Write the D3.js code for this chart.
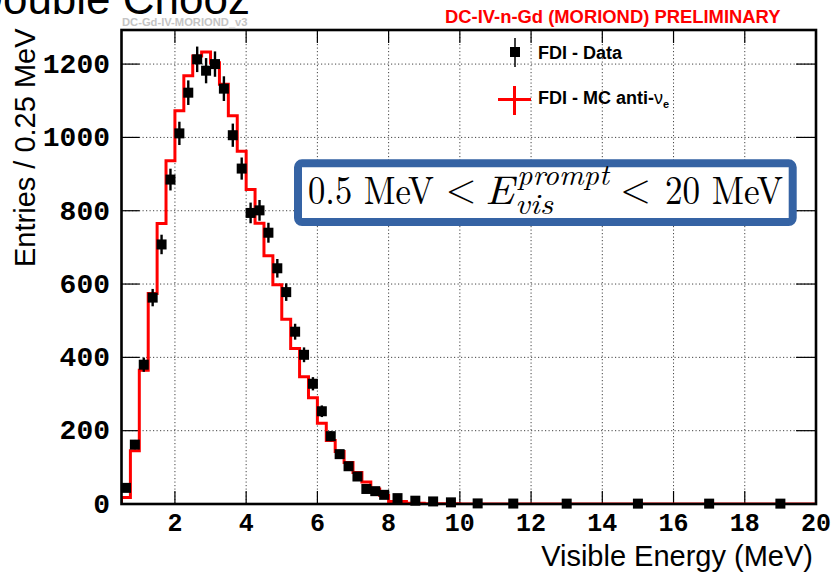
<!DOCTYPE html>
<html>
<head>
<meta charset="utf-8">
<script src="https://cdn.jsdelivr.net/npm/d3@7"></script>
<style>
  body { margin: 0; background: #fff; }
  svg { display: block; }
</style>
</head>
<body>
<svg id="chart" width="833" height="574"></svg>
<script>
// Bin edges of the prompt visible-energy spectrum (MeV)
const binEdges = [0.5, 0.75, 1.0, 1.25, 1.5, 1.75, 2.0, 2.25, 2.5, 2.75,
                  3.0, 3.25, 3.5, 3.75, 4.0, 4.25, 4.5, 4.75, 5.0, 5.25,
                  5.5, 5.75, 6.0, 6.25, 6.5, 6.75, 7.0, 7.25, 7.5, 7.75,
                  8.0, 8.5, 9.0, 9.5, 10, 11, 12, 14, 16, 18, 20];

// FDI data, entries per 0.25 MeV
const dataValues = [44, 162, 380, 563, 708, 885, 1011, 1122, 1213, 1182,
                    1200, 1133, 1006, 915, 794, 801, 740, 643, 578, 470,
                    407, 328, 253, 185, 136, 103, 75, 41, 35, 25,
                    16, 9, 7, 4.5, 1.6, 1.2, 1.0, 1.0, 1.0, 1.0];
const dataErrors = [6.6, 12.7, 19.5, 23.7, 26.6, 29.7, 31.8, 33.5, 34.8, 34.4,
                    34.6, 33.7, 31.7, 30.2, 28.2, 28.3, 27.2, 25.4, 24.0, 21.7,
                    20.2, 18.1, 15.9, 13.6, 11.7, 10.1, 8.7, 6.4, 5.9, 5.0,
                    2.8, 2.1, 1.9, 1.5, 0.6, 0.5, 0.4, 0.4, 0.4, 0.4];

// FDI Monte Carlo anti-neutrino prediction, entries per 0.25 MeV
const mcValues = [18, 145, 365, 574, 765, 936, 1073, 1168, 1222, 1233,
                  1204, 1145, 1059, 962, 858, 766, 677, 598, 504, 424,
                  347, 290, 220, 173, 143, 113, 86, 60, 41, 23,
                  7, 2, 1, 0.5, 0.3, 0.2, 0.1, 0.05, 0.02, 0.01];

const xTicks = [2, 4, 6, 8, 10, 12, 14, 16, 18, 20];
const yTicks = [0, 200, 400, 600, 800, 1000, 1200];

const svg = d3.select("#chart");

const plotLeft = 121.5, plotRight = 816, plotTop = 30, plotBottom = 504;
const x = d3.scaleLinear().domain([0.5, 20]).range([plotLeft, plotRight]);
const y = d3.scaleLinear().domain([0, 1293]).range([plotBottom, plotTop]);

// Title over the canvas (partly off the page)
svg.append("text")
  .attr("x", 250).attr("y", 14)
  .attr("text-anchor", "end")
  .attr("font-family", "Liberation Sans, Arial, sans-serif")
  .attr("font-size", 44)
  .attr("fill", "#000")
  .text("Double Chooz");

svg.append("text")
  .attr("x", 122).attr("y", 25.5)
  .attr("font-family", "Liberation Sans, Arial, sans-serif")
  .attr("font-weight", "bold")
  .attr("font-size", 11.2)
  .attr("fill", "#c4c4c4")
  .text("DC-Gd-IV-MORIOND_v3");

svg.append("text")
  .attr("x", 445).attr("y", 23.3)
  .attr("font-family", "Liberation Sans, Arial, sans-serif")
  .attr("font-weight", "bold")
  .attr("font-size", 18.4)
  .attr("fill", "#ff0000")
  .text("DC-IV-n-Gd (MORIOND) PRELIMINARY");

// Grid
const grid = svg.append("g")
  .attr("stroke", "#444").attr("stroke-width", 1)
  .attr("stroke-dasharray", "1.2,2.3");
grid.selectAll(".gx").data(xTicks.filter(t => t < 20)).join("line")
  .attr("x1", d => x(d)).attr("x2", d => x(d))
  .attr("y1", plotTop).attr("y2", plotBottom);
grid.selectAll(".gy").data(yTicks.filter(t => t > 0)).join("line")
  .attr("x1", plotLeft).attr("x2", plotRight)
  .attr("y1", d => y(d)).attr("y2", d => y(d));

// Axes ticks (inward, on all four sides)
const ticks = svg.append("g").attr("stroke", "#000").attr("stroke-width", 1.2);
xTicks.filter(t => t < 20).forEach(t => {
  ticks.append("line").attr("x1", x(t)).attr("x2", x(t)).attr("y1", plotBottom).attr("y2", plotBottom - 13);
  ticks.append("line").attr("x1", x(t)).attr("x2", x(t)).attr("y1", plotTop).attr("y2", plotTop + 13);
});
yTicks.filter(t => t > 0).forEach(t => {
  ticks.append("line").attr("x1", plotLeft).attr("x2", plotLeft + 18).attr("y1", y(t)).attr("y2", y(t));
  ticks.append("line").attr("x1", plotRight).attr("x2", plotRight - 20).attr("y1", y(t)).attr("y2", y(t));
});

// MC histogram (step line)
svg.append("clipPath").attr("id", "plotclip")
  .append("rect").attr("x", plotLeft).attr("y", plotTop)
  .attr("width", plotRight - plotLeft).attr("height", plotBottom - plotTop);

const mcPoints = [[binEdges[0], 0]]
  .concat(mcValues.map((v, i) => [binEdges[i], v]))
  .concat([[binEdges[binEdges.length - 1], mcValues[mcValues.length - 1]]]);
const stepLine = d3.line()
  .x(d => x(d[0])).y(d => y(d[1]))
  .curve(d3.curveStepAfter);
svg.append("path")
  .attr("clip-path", "url(#plotclip)")
  .attr("d", stepLine(mcPoints))
  .attr("fill", "none")
  .attr("stroke", "#ff0000")
  .attr("stroke-width", 3);

// Data points with error bars
const pts = dataValues.map((v, i) => ({
  e: (binEdges[i] + binEdges[i + 1]) / 2, v, err: dataErrors[i]
}));
const dg = svg.append("g");
dg.selectAll("line.err").data(pts).join("line")
  .attr("class", "err")
  .attr("x1", d => x(d.e)).attr("x2", d => x(d.e))
  .attr("y1", d => y(d.v + d.err)).attr("y2", d => y(Math.max(0, d.v - d.err)))
  .attr("stroke", "#000").attr("stroke-width", 2.4);
dg.selectAll("rect.pt").data(pts).join("rect")
  .attr("class", "pt")
  .attr("x", d => x(d.e) - 5).attr("y", d => y(d.v) - 5)
  .attr("width", 10).attr("height", 10)
  .attr("fill", "#000");

// Frame
svg.append("rect")
  .attr("x", plotLeft).attr("y", plotTop)
  .attr("width", plotRight - plotLeft).attr("height", plotBottom - plotTop)
  .attr("fill", "none").attr("stroke", "#000").attr("stroke-width", 2.6);

// Tick labels
svg.append("g").selectAll("text").data(yTicks).join("text")
  .attr("x", 110).attr("y", d => y(d) + 8.8)
  .attr("text-anchor", "end")
  .attr("font-family", "Liberation Mono, Courier New, monospace")
  .attr("font-weight", "bold")
  .attr("font-size", 28)
  .attr("fill", "#000")
  .text(d => d);

svg.append("g").selectAll("text").data(xTicks).join("text")
  .attr("x", d => x(d)).attr("y", 531)
  .attr("text-anchor", "middle")
  .attr("font-family", "Liberation Mono, Courier New, monospace")
  .attr("font-weight", "bold")
  .attr("font-size", 25)
  .attr("fill", "#000")
  .text(d => d);

// Axis titles
svg.append("text")
  .attr("x", 813).attr("y", 566)
  .attr("text-anchor", "end")
  .attr("font-family", "Liberation Sans, Arial, sans-serif")
  .attr("font-size", 29)
  .attr("fill", "#000")
  .text("Visible Energy (MeV)");

svg.append("text")
  .attr("transform", "translate(35,267) rotate(-90)")
  .attr("font-family", "Liberation Sans, Arial, sans-serif")
  .attr("font-size", 29)
  .attr("fill", "#000")
  .text("Entries / 0.25 MeV");

// Legend
const lg = svg.append("g");
lg.append("line").attr("x1", 515).attr("x2", 515).attr("y1", 38).attr("y2", 67)
  .attr("stroke", "#000").attr("stroke-width", 1.5);
lg.append("rect").attr("x", 510).attr("y", 47).attr("width", 10).attr("height", 10).attr("fill", "#000");
lg.append("text").attr("x", 538).attr("y", 58.5)
  .attr("font-family", "Liberation Sans, Arial, sans-serif")
  .attr("font-weight", "bold").attr("font-size", 18).attr("fill", "#000")
  .text("FDI - Data");

lg.append("line").attr("x1", 498).attr("x2", 531).attr("y1", 99.5).attr("y2", 99.5)
  .attr("stroke", "#ff0000").attr("stroke-width", 3);
lg.append("line").attr("x1", 514.5).attr("x2", 514.5).attr("y1", 86).attr("y2", 115)
  .attr("stroke", "#ff0000").attr("stroke-width", 3);
const mcLabel = lg.append("text").attr("x", 538).attr("y", 103.5)
  .attr("font-family", "Liberation Sans, Arial, sans-serif")
  .attr("font-weight", "bold").attr("font-size", 18).attr("fill", "#000");
mcLabel.append("tspan").text("FDI - MC anti-");
mcLabel.append("tspan").attr("font-weight", "normal").text("ν");
mcLabel.append("tspan").attr("font-size", 11).attr("dy", 4).text("e");

// Energy window annotation
svg.append("rect")
  .attr("x", 298).attr("y", 163.3)
  .attr("width", 494.7).attr("height", 58.7)
  .attr("rx", 4)
  .attr("fill", "#fff")
  .attr("stroke", "#3563a4").attr("stroke-width", 8);

const serif = "Latin Modern Roman, CMU Serif, Liberation Serif, Times New Roman, serif";
const ann = svg.append("g").attr("font-family", serif).attr("fill", "#000");
ann.append("text").attr("x", 308).attr("y", 203.5).attr("font-size", 40)
  .attr("textLength", 126).attr("lengthAdjust", "spacingAndGlyphs").text("0.5 MeV");
ann.append("text").attr("x", 461).attr("y", 201.5).attr("font-size", 40)
  .attr("text-anchor", "middle").text("<");
ann.append("text").attr("x", 485).attr("y", 203.5).attr("font-size", 40)
  .attr("font-style", "italic").attr("textLength", 29).attr("lengthAdjust", "spacingAndGlyphs").text("E");
ann.append("text").attr("x", 517).attr("y", 185).attr("font-size", 29)
  .attr("font-style", "italic").attr("textLength", 92).attr("lengthAdjust", "spacingAndGlyphs").text("prompt");
ann.append("text").attr("x", 515).attr("y", 213.5).attr("font-size", 29)
  .attr("font-style", "italic").attr("textLength", 38).attr("lengthAdjust", "spacingAndGlyphs").text("vis");
ann.append("text").attr("x", 635.5).attr("y", 201.5).attr("font-size", 40)
  .attr("text-anchor", "middle").text("<");
ann.append("text").attr("x", 665).attr("y", 203.5).attr("font-size", 40)
  .attr("textLength", 118).attr("lengthAdjust", "spacingAndGlyphs").text("20 MeV");
</script>
</body>
</html>
